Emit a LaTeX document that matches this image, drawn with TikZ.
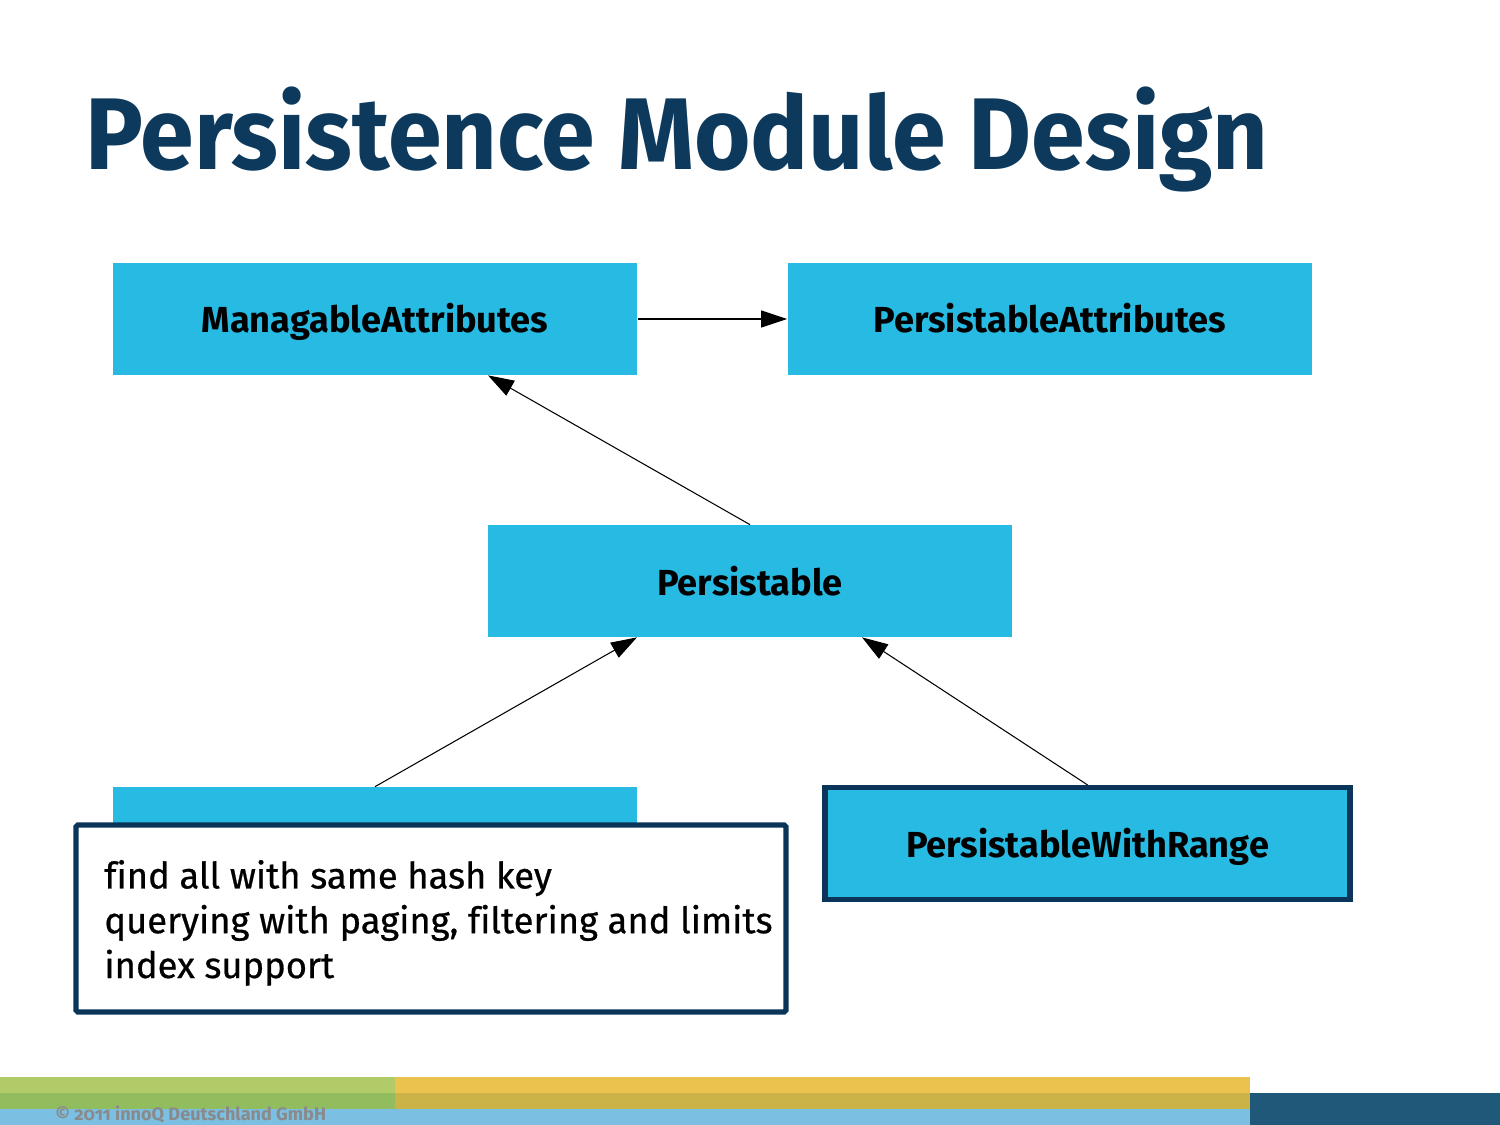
\documentclass[tikz,border=0pt]{standalone}
\usepackage{fontspec}
\setmainfont{Fira Sans}
\newfontfamily\titlefont[FakeStretch=0.95]{Fira Sans}
\newfontfamily\notefont[FakeBold=0.6,Ligatures=NoCommon]{Fira Sans}
\usetikzlibrary{arrows.meta,calc}
\definecolor{boxblue}{HTML}{27BAE3}
\definecolor{navy}{HTML}{0A3558}
\definecolor{titlecol}{HTML}{0D3A5C}
\definecolor{fgreenA}{HTML}{B2CB69}
\definecolor{fgreenB}{HTML}{92BD5F}
\definecolor{fyellowA}{HTML}{ECC24E}
\definecolor{fyellowB}{HTML}{CBB348}
\definecolor{flight}{HTML}{7BBFE2}
\definecolor{fdark}{HTML}{1F5878}
\definecolor{copygrey}{HTML}{8A8A8A}
\tikzset{
  cls/.style={rectangle, fill=boxblue, minimum width=10.5cm, minimum height=2.24cm, inner sep=0pt,
    text height=0.56cm, text depth=0cm,
    font=\bfseries\fontsize{20.6}{24}\selectfont, text=black},
  clsframed/.style={cls, draw=navy, line width=3pt},
  conn/.style={line width=0.6pt, -{Triangle[length=0.52cm,width=0.34cm]}},
  notebox/.style={rectangle, draw=navy, fill=white, line width=3pt, rounded corners=1pt,
    minimum width=14.2cm, minimum height=3.74cm, inner sep=0pt},
}
\begin{document}
\begin{tikzpicture}[x=0.02cm,y=-0.02cm]
\useasboundingbox (0,0) rectangle (1500,1125);
% title
\node[anchor=base west, inner sep=0pt, text=titlecol, font=\titlefont\bfseries\fontsize{58}{70}\selectfont] (title) at (85,170) {Persistence Module Design};
% class boxes
\node[cls] (ma) at (375,319) {ManagableAttributes};
\node[cls] (pa) at (1050,319) {PersistableAttributes};
\node[cls] (pers) at (750,581) {Persistable};
\node[cls] (hidden) at (375,843) {};
\node[clsframed] (pwr) at (1087.5,843.5) {PersistableWithRange};
% connectors
\draw[conn] (ma.east) -- (pa.west);
\draw[conn] (pers.north) -- ([xshift=2.26cm]ma.south);
\draw[conn] (hidden.north) -- ([xshift=-2.26cm]pers.south);
\draw[conn] (pwr.north) -- ([xshift=2.24cm]pers.south);
% note
\node[notebox] (note) at (431,918.5) {};
\node[anchor=base west, inner sep=0pt, align=left, font=\notefont\fontsize{20.7}{25.5}\selectfont] (notetext) at (104,978)
  {find all with same hash key\\querying with paging, filtering and limits\\index support};
% footer
\fill[fgreenA] (0,1077) rectangle (395,1093);
\fill[fgreenB] (0,1093) rectangle (395,1109);
\fill[fyellowA] (395,1077) rectangle (1250,1093);
\fill[fyellowB] (395,1093) rectangle (1250,1109);
\fill[flight] (0,1109) rectangle (1250,1125);
\fill[fdark] (1250,1093) rectangle (1500,1125);
\node[anchor=base west, inner sep=0pt, text=copygrey, font=\bfseries\fontsize{10.3}{12}\selectfont\addfontfeatures{Numbers=OldStyle}] (copy) at (55,1120) {© 2011 innoQ Deutschland GmbH};
\end{tikzpicture}
\end{document}
